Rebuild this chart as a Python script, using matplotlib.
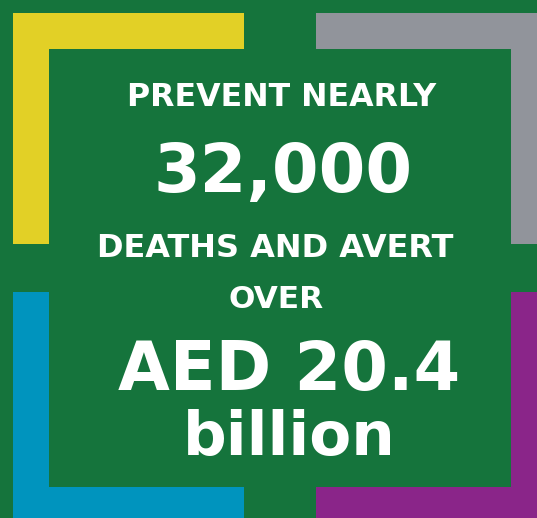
import matplotlib
matplotlib.use("Agg")
import matplotlib.pyplot as plt
from matplotlib.patches import Polygon

W, H = 537, 518

# corner brackets: outer corner point, direction of the arms, colour
bracket_colors = ["#E2D026", "#91949B", "#0094BE", "#8A2589"]
bracket_x0 = [13, 547, 13, 547]
bracket_y0 = [13, 13, 523, 523]
bracket_sx = [1, -1, 1, -1]
bracket_sy = [1, 1, -1, -1]

# text lines with their left edge, right edge and baseline in pixels
lines = ["PREVENT NEARLY", "32,000", "DEATHS AND AVERT", "OVER", "AED 20.4", "billion"]
line_left = [127, 153, 97, 228, 118, 183]
line_right = [435, 413, 453, 323, 460, 397]
line_base = [106, 192, 257, 308, 390, 455]

bg = "#15743C"
FONT = "DejaVu Sans"

fig = plt.figure(figsize=(W / 100, H / 100), dpi=100)
fig.patch.set_facecolor(bg)
ax = fig.add_axes([0, 0, 1, 1])
ax.set_xlim(0, W)
ax.set_ylim(H, 0)
ax.set_facecolor(bg)
ax.axis("off")

t = 36     # bar thickness
arm = 231  # arm length

for x0, y0, sx, sy, col in zip(bracket_x0, bracket_y0, bracket_sx, bracket_sy, bracket_colors):
    pts = [(x0, y0), (x0 + sx * arm, y0), (x0 + sx * arm, y0 + sy * t),
           (x0 + sx * t, y0 + sy * t), (x0 + sx * t, y0 + sy * arm),
           (x0, y0 + sy * arm)]
    ax.add_patch(Polygon(pts, closed=True, facecolor=col, edgecolor="none"))

fig.canvas.draw()
renderer = fig.canvas.get_renderer()
for s, xl, xr, yb in zip(lines, line_left, line_right, line_base):
    txt = ax.text(xl, yb, s, color="white", fontsize=20, fontweight="bold",
                  family=FONT, ha="left", va="baseline")
    bb = txt.get_window_extent(renderer)
    txt.set_fontsize(20 * (xr - xl) / bb.width)

fig.savefig("out.png", dpi=100, facecolor=bg)
